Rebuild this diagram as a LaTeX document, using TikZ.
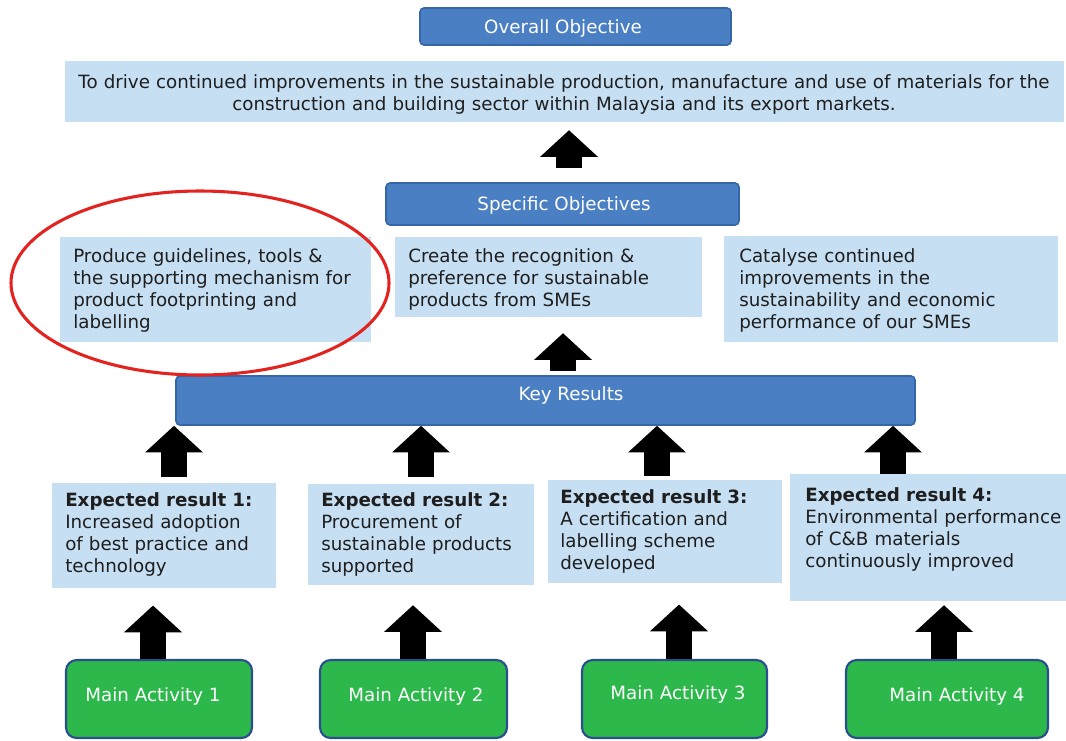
\documentclass[tikz,border=0pt]{standalone}
\usepackage{fontspec}
\setmainfont{DejaVu Sans}
\usetikzlibrary{arrows.meta,calc,fit}
\definecolor{hdrfill}{HTML}{4A7FC3}
\definecolor{hdrline}{HTML}{3566A8}
\definecolor{boxfill}{HTML}{C6DFF3}
\definecolor{actfill}{HTML}{2DB84B}
\definecolor{actline}{HTML}{2B4E8E}
\definecolor{ink}{HTML}{1E1E1E}
\definecolor{ring}{HTML}{E3231F}

\begin{document}
\begin{tikzpicture}[x=0.75pt,y=-0.75pt,
  every node/.style={font=\fontsize{13.7}{16.5}\selectfont, inner sep=0pt, text=ink},
  hdr/.style={draw=hdrline, fill=hdrfill, line width=1.2pt, rounded corners=3pt},
  panel/.style={fill=boxfill},
  act/.style={draw=actline, fill=actfill, line width=1.6pt, rounded corners=8pt},
  light/.style={text=white},
  body/.style={anchor=base west, align=left, text width=260pt},
  blockarrow/.style={black, line width=20pt,
    -{Triangle[width=43.5pt,length=20pt,line width=0pt]}}
]
% canvas
\fill[white] (0,0) rectangle (1066,740);
\useasboundingbox (0,0) rectangle (1066,740);

% ---- overall objective ----
\node[hdr, fit={(420,8) (731,45)}] (oohdr) {};
\node[light] (ootitle) at (563,28) {Overall Objective};
\node[panel, fit={(65,61) (1064,122)}] (oobox) {};
\node[anchor=base, align=center, text width=770pt] (ootext) at (564,88)
  {To drive continued improvements in the sustainable production, manufacture and use of materials for the\\
   construction and building sector within Malaysia and its export markets.};

% ---- specific objectives ----
\node[hdr, fit={(386,183) (739,225)}] (sohdr) {};
\node[light] (sotitle) at (564,205) {Specific Objectives};
\node[panel, fit={(60,237) (371,342)}] (so1) {};
\node[panel, fit={(395,237) (702,317)}] (so2) {};
\node[panel, fit={(724,236) (1058,342)}] (so3) {};
\node[body] (so1t) at (73,262) {Produce guidelines, tools \&\\the supporting mechanism for\\product footprinting and\\labelling};
\node[body] (so2t) at (408,262) {Create the recognition \&\\preference for sustainable\\products from SMEs};
\node[body] (so3t) at (739,262) {Catalyse continued\\improvements in the\\sustainability and economic\\performance of our SMEs};

% ---- key results ----
\node[hdr, fit={(176,376) (915,425)}] (kr) {};
\node[light] (krtitle) at (571,395) {Key Results};

% ---- expected results ----
\node[panel, fit={(52,483) (276,588)}] (er1) {};
\node[panel, fit={(308,484) (534,585)}] (er2) {};
\node[panel, fit={(548,480) (782,583)}] (er3) {};
\node[panel, fit={(790,474) (1066,601)}] (er4) {};
\node[body] (er1t) at (65,506) {\textbf{Expected result 1:}\\Increased adoption\\of best practice and\\technology};
\node[body] (er2t) at (321,506) {\textbf{Expected result 2:}\\Procurement of\\sustainable products\\supported};
\node[body] (er3t) at (560,503) {\textbf{Expected result 3:}\\A certification and\\labelling scheme\\developed};
\node[body] (er4t) at (805,501) {\textbf{Expected result 4:}\\Environmental performance\\of C\&B materials\\continuously improved};

% ---- main activities ----
\node[act, fit={(66,660) (252,738)}] (ma1) {};
\node[act, fit={(320,660) (507,738)}] (ma2) {};
\node[act, fit={(582,660) (767,738)}] (ma3) {};
\node[act, fit={(846,660) (1048,738)}] (ma4) {};
\node[light] (ma1t) at (153,696) {Main Activity 1};
\node[light] (ma2t) at (416,696) {Main Activity 2};
\node[light] (ma3t) at (678,694) {Main Activity 3};
\node[light] (ma4t) at (957,696) {Main Activity 4};

% ---- arrow columns ----
\coordinate (c0) at (569,0);
\coordinate (c1) at (563,0);
\coordinate (k1) at (174,0);
\coordinate (k2) at (421,0);
\coordinate (k3) at (657,0);
\coordinate (k4) at (893,0);
\coordinate (m1) at (153,0);
\coordinate (m2) at (413,0);
\coordinate (m3) at (679,0);
\coordinate (m4) at (944,0);

% ---- block arrows ----
\draw[blockarrow, shorten <=10.5pt, shorten >=6pt] (sohdr.north -| c0) -- (oobox.south -| c0);
\draw[blockarrow, shorten <=3pt, shorten >=12pt] (kr.north -| c1) -- (so2.south -| c1);
\draw[blockarrow, shorten <=4.5pt] (er1.north -| k1) -- (kr.south -| k1);
\draw[blockarrow, shorten <=5pt] (er2.north -| k2) -- (kr.south -| k2);
\draw[blockarrow, shorten <=2.5pt] (er3.north -| k3) -- (kr.south -| k3);
\draw[blockarrow] (er4.north -| k4) -- (kr.south -| k4);
\draw[blockarrow, shorten >=13pt] (ma1.north -| m1) -- (er1.south -| m1);
\draw[blockarrow, shorten >=15pt] (ma2.north -| m2) -- (er2.south -| m2);
\draw[blockarrow, shorten >=16pt] (ma3.north -| m3) -- (er3.south -| m3);
\draw[blockarrow, shorten >=3pt] (ma4.north -| m4) -- (er4.south -| m4);

% ---- highlight ring ----
\draw[ring, line width=2.3pt] (200,283) ellipse [x radius=189, y radius=92];
\end{tikzpicture}
\end{document}
